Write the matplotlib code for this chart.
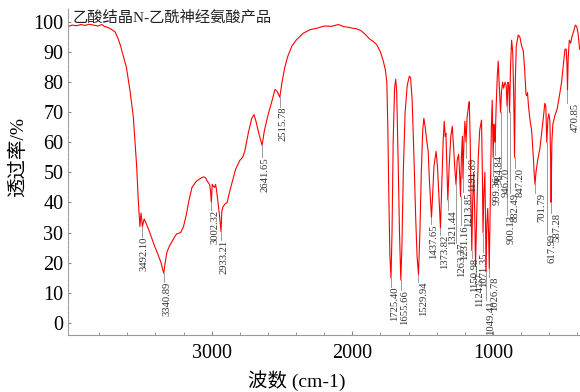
import numpy as np
import matplotlib.pyplot as plt

# IR spectrum (wavenumber cm-1, transmittance %)
wavenumber = [4019, 3990, 3960, 3930, 3900, 3870, 3840, 3810, 3780, 3760, 3746, 3720,
              3687, 3665, 3650, 3630, 3606, 3580, 3557, 3533, 3522, 3515, 3510, 3502,
              3492.1, 3480, 3465, 3440, 3410, 3380, 3360, 3350, 3340.89, 3330, 3318,
              3300, 3270, 3250, 3220, 3200, 3180, 3160, 3140, 3110, 3080, 3060, 3045,
              3030, 3015, 3008, 3002.32, 2996, 2990, 2980, 2972, 2965, 2955, 2945,
              2933.21, 2928, 2920, 2905, 2890, 2870, 2850, 2830, 2800, 2780, 2765,
              2740, 2715, 2699, 2685, 2665, 2641.65, 2625, 2600, 2570, 2550, 2535,
              2515.78, 2500, 2480, 2460, 2430, 2400, 2350, 2300, 2250, 2200, 2150,
              2100, 2060, 2030, 2000, 1970, 1940, 1910, 1880, 1850, 1827, 1800, 1780,
              1765, 1755, 1748, 1740, 1733, 1725.4, 1718, 1710, 1700, 1692, 1685,
              1675, 1665, 1655.66, 1648, 1638, 1625, 1610, 1595, 1586, 1575, 1562,
              1550, 1540, 1529.94, 1520, 1510, 1500, 1492, 1482, 1470, 1461, 1452,
              1444, 1437.65, 1430, 1420, 1405, 1395, 1385, 1373.82, 1365, 1355, 1347,
              1340, 1335, 1328, 1321.44, 1312, 1300, 1290, 1280, 1270, 1263.37, 1255,
              1245, 1238, 1231.16, 1225, 1218, 1213.85, 1207, 1200, 1191.89, 1185,
              1175, 1169, 1162, 1155, 1150.98, 1145, 1138, 1131, 1124.57, 1115, 1105,
              1095, 1082, 1076, 1071.35, 1066, 1058, 1054, 1049.41, 1044, 1038, 1032,
              1026.78, 1020, 1012, 1006, 999.36, 994, 990, 984.84, 978, 970, 963, 957,
              951, 946.7, 940, 932, 925, 915, 907, 900.13, 894, 888, 882.49, 876, 868,
              860, 853, 847.2, 842, 835, 821, 809, 797, 785, 775, 766, 761, 755, 748,
              736, 726, 715, 708, 701.79, 695, 683, 667, 655, 643, 632, 625, 617.99,
              610, 603, 596, 591, 587.28, 582, 575, 560, 545, 530, 513, 500, 489, 480,
              474, 470.85, 466, 458, 448, 440, 430, 415, 405, 395, 385]
transmittance = [98.6, 99.0, 98.8, 99.2, 98.9, 99.3, 99.0, 98.7, 99.2, 98.5, 98.4, 97.8,
                 96.8, 94.5, 92.5, 89, 85, 77, 68.5, 52, 41, 36, 32, 36.5,
                 32, 34.5, 33, 30, 26, 22.5, 20, 18, 16.5, 20, 23.5,
                 25.5, 28, 29.5, 30, 32, 36, 41, 45, 47, 48, 48.5, 48.3,
                 47, 46, 44, 40, 46, 45.5, 45, 46, 44, 40, 36,
                 30.3, 37, 38.5, 39.5, 40, 44, 47.5, 51, 54, 55, 57,
                 63, 68, 69.2, 67, 63, 59, 64, 69, 74, 77.6, 77,
                 75, 80, 85, 88.5, 92, 94, 96.3, 97.5, 98, 98.7, 98.6,
                 99.2, 98.5, 98.3, 98.0, 97.8, 97.2, 96.0, 94.5, 93.5, 92.5, 90, 87,
                 84, 80, 65, 40, 22, 14.8, 30, 60, 78, 81, 77,
                 55, 30, 14.2, 25, 50, 70, 79, 82, 81.5, 74, 55,
                 35, 22, 16, 30, 50, 64, 68, 65, 60, 57, 47,
                 40, 35, 42, 52, 57, 52, 42, 31.5, 45, 60, 67,
                 62, 63, 52, 40.8, 52, 62, 65.4, 58, 50, 46, 54,
                 56, 50, 42, 55, 62, 48, 60, 67, 60, 68,
                 72, 73.5, 60, 35, 24, 40, 50, 38, 19, 38, 55,
                 64, 67.4, 50, 30, 42, 50, 35, 17, 33, 38, 30,
                 18, 40, 65, 74, 55, 66, 63, 60, 72, 82, 87, 80,
                 74, 70, 77, 80, 78, 80, 79, 72, 80, 79, 70, 85, 94,
                 90, 75, 55, 80, 92, 95.7, 95, 92, 90.5, 84, 76, 75.5, 76.5, 72,
                 67, 64, 56, 50, 46, 50, 54, 58, 63, 68, 73, 72, 60,
                 68, 69.5, 67, 55, 40, 60, 66, 69, 71, 75, 80, 86, 91, 91,
                 85, 77.4, 88, 94, 93, 95, 96.5, 99, 98.5, 96, 91]

# labelled peaks
peaks = [3492.10, 3340.89, 3002.32, 2933.21, 2641.65, 2515.78, 1725.40, 1655.66,
         1529.94, 1437.65, 1373.82, 1321.44, 1263.37, 1231.16, 1213.85, 1191.89,
         1150.98, 1124.57, 1071.35, 1049.41, 1026.78, 999.36, 984.84, 946.70,
         900.13, 882.49, 847.20, 701.79, 617.99, 587.28, 470.85]

# label offsets from the peak, in pixels (right, down)
lab_dx = [2, 3, 4, 3, 3, 3, 4, 4, 5, 2.5, 4, 4.6, 5.6, 4.4, 6, 6.8,
          3, 4, 1, 4, 5, 4, 4, 5.4, 4.5, 5.3, 5.4, 6.4, 5, 5.8, 8]
lab_dy = [10, 8.6, 7.6, 8.4, 11.4, 9.5, 8.5, 10, 7.1, 6.5, 7, 10, 58.6, 28.6, 13.6, 15.7,
          7.5, 7.4, 19.5, 28.4, 8.4, 18.7, 12.7, 55.8, 108.8, 80.8, 10.7, 8.6, 91.7, 10.6, 13]

serif = 'Liberation Serif'
# latin in serif, chinese falls back to Noto
mixed = ['Liberation Serif', 'Noto Sans CJK SC', 'DejaVu Sans']

fig = plt.figure(figsize=(5.8, 3.92), dpi=100)
ax = fig.add_axes([68.3 / 580, (392 - 334.7) / 392, (580 - 68.3) / 580, (334.7 - 8) / 392])

ax.plot(wavenumber, transmittance, color='#ff0000', lw=0.8)
ax.set_xlim(4019, 382)
ax.set_ylim(-4, 104.7)

# leader lines and rotated peak labels
px_per_unit = ax.get_position().height * fig.get_figheight() * fig.dpi / (104.7 + 4)
wn_sorted = np.array(wavenumber[::-1])
t_sorted = np.array(transmittance[::-1])
for p, dx, dy in zip(peaks, lab_dx, lab_dy):
    t = np.interp(p, wn_sorted, t_sorted)
    ax.plot([p, p], [t, t - dy / px_per_unit], color='#8c8c8c', lw=0.6)
    ax.annotate(f'{p:.2f}', xy=(p, t), xytext=(dx, -dy), textcoords='offset pixels',
                rotation=90, ha='center', va='top', fontsize=7.7, family=serif,
                color='#333333')

ax.set_yticks(range(0, 101, 10))
ax.set_xticks([3000, 2000, 1000])
ax.set_xticks([x for x in range(4000, 399, -200) if x % 1000], minor=True)
ax.tick_params(axis='both', which='both', direction='in', colors='#888888',
               labelcolor='black', labelsize=14.5)
ax.tick_params(axis='x', which='major', length=3, pad=6.5)
ax.tick_params(axis='x', which='minor', length=2.5)
ax.tick_params(axis='y', which='major', length=2.5, pad=3.5)
for lab in ax.get_xticklabels() + ax.get_yticklabels():
    lab.set_family(serif)

ax.spines['top'].set_visible(False)
ax.spines['right'].set_visible(False)
ax.spines['bottom'].set_color('#999999')
ax.spines['left'].set_color('#999999')
ax.spines['left'].set_linestyle((0, (1, 1.2)))
ax.spines['bottom'].set_linewidth(0.8)
ax.spines['left'].set_linewidth(0.8)

fig.text(72.7 / 580, 1 - 18 / 392, '乙酸结晶N-乙酰神经氨酸产品', family=mixed,
         fontsize=11, color='#222222', ha='left', va='center')
fig.text(18 / 580, 1 - 157 / 392, '透过率/%', family=mixed, fontsize=14,
         rotation=90, ha='center', va='center')
fig.text(296.5 / 580, 1 - 381 / 392, '波数 (cm-1)', family=mixed, fontsize=14,
         ha='center', va='center')

fig.savefig('out.png', dpi=100)
